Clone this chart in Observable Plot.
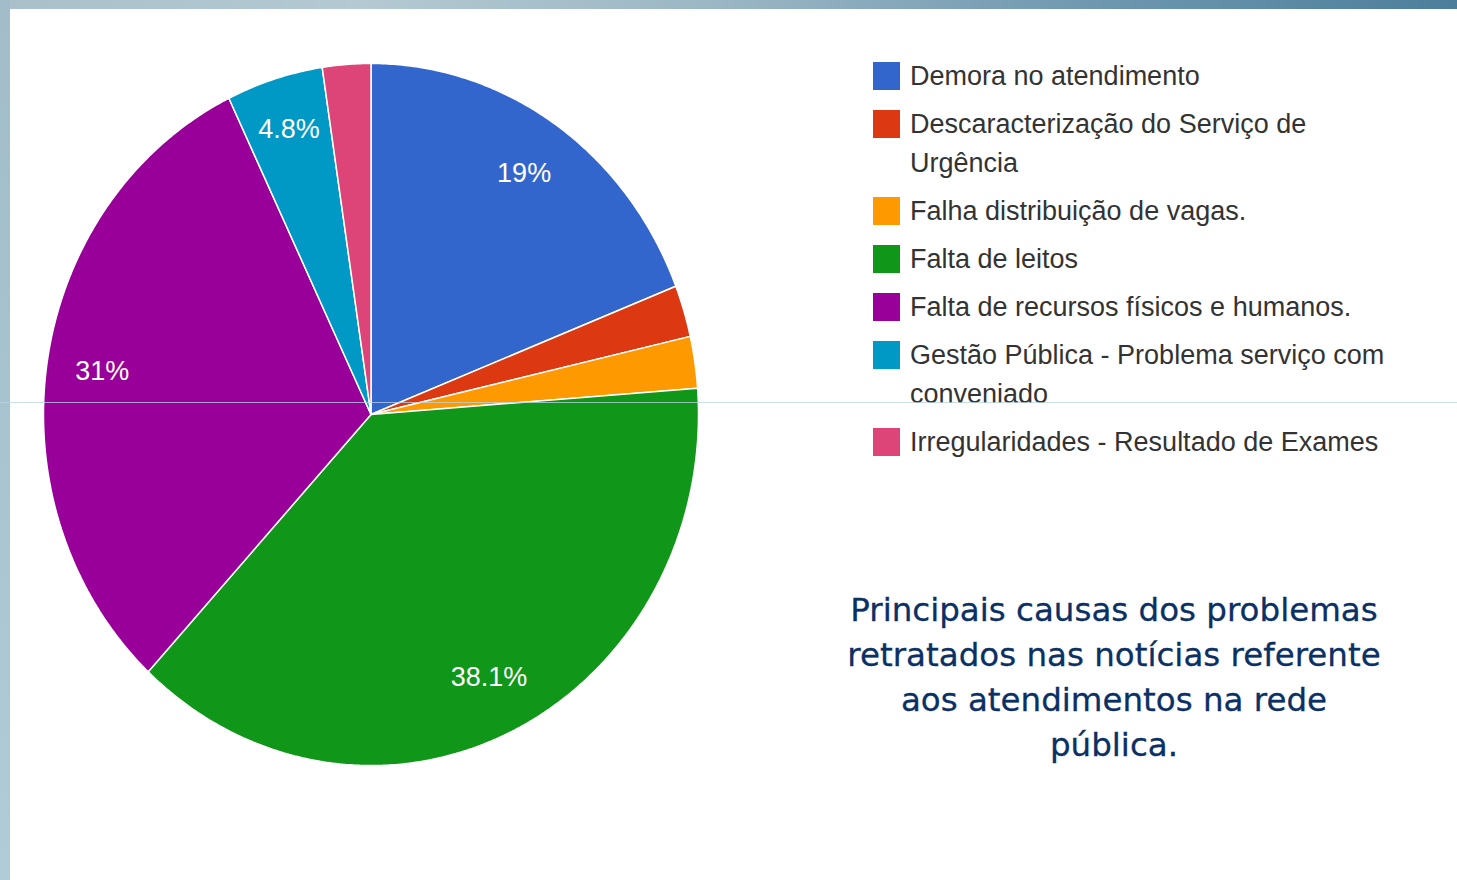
<!DOCTYPE html>
<html>
<head>
<meta charset="utf-8">
<script src="https://cdn.jsdelivr.net/npm/d3@7"></script>
<script src="https://cdn.jsdelivr.net/npm/@observablehq/plot@0.6"></script>
<style>
  html, body { margin: 0; padding: 0; }
  body { width: 1457px; height: 880px; position: relative; overflow: hidden; background: #ffffff; font-family: "Liberation Sans", Arial, sans-serif; }
  #topband { position: absolute; left: 0; top: 0; width: 1457px; height: 9px;
    background: linear-gradient(90deg, #a9c0cb 0%, #b4c9d2 25%, #9ab6c4 50%, #6f98b0 75%, #4c7e9b 100%); }
  #leftband { position: absolute; left: 0; top: 0; width: 10px; height: 880px;
    background: linear-gradient(180deg, #a2bcc9 0%, #a8c4d1 50%, #b0ccd8 100%); }
  #chart { position: absolute; left: 0; top: 0; }
  #legend { position: absolute; left: 873px; top: 57px; }
  .item { display: flex; align-items: flex-start; margin-bottom: 9px; }
  .sw { width: 27px; height: 28px; margin-top: 5px; flex: none; }
  .lab { margin-left: 10px; font-size: 27px; line-height: 39px; color: #333; white-space: nowrap; }
  #title { position: absolute; left: 814px; top: 588px; width: 600px; text-align: center;
    font-family: "DejaVu Sans", Verdana, sans-serif; font-size: 32.5px; line-height: 45px; color: #0b3064;
    -webkit-text-stroke: 0.3px #0b3064; }
  #hline { position: absolute; left: 0; top: 402px; width: 1457px; height: 1px; background: rgba(185,212,228,0.75); z-index: 10; }
</style>
</head>
<body>
<div id="topband"></div>
<div id="leftband"></div>
<div id="chart"></div>
<div id="legend"></div>
<div id="title"></div>
<div id="hline"></div>
<script>
// ---- data ----
const categories = [
  "Demora no atendimento",
  "Descaracterização do Serviço de Urgência",
  "Falha distribuição de vagas.",
  "Falta de leitos",
  "Falta de recursos físicos e humanos.",
  "Gestão Pública - Problema serviço com conveniado",
  "Irregularidades - Resultado de Exames"
];
const legendLines = [
  ["Demora no atendimento"],
  ["Descaracterização do Serviço de", "Urgência"],
  ["Falha distribuição de vagas."],
  ["Falta de leitos"],
  ["Falta de recursos físicos e humanos."],
  ["Gestão Pública - Problema serviço com", "conveniado"],
  ["Irregularidades - Resultado de Exames"]
];
const counts = [8, 1, 1, 16, 13, 2, 1];
const colors = ["#3366cc", "#dc3912", "#ff9900", "#109618", "#990099", "#0099c6", "#dd4477"];
const titleLines = [
  "Principais causas dos problemas",
  "retratados nas notícias referente",
  "aos atendimentos na rede",
  "pública."
];

// ---- build pie geometry from data ----
const total = d3.sum(counts);
const arcs = d3.pie().sort(null).value(d => d)(counts);
const rows = [];
arcs.forEach((a, i) => {
  const cat = categories[i];
  rows.push({cat, x: 0, y: 0});
  const steps = Math.max(2, Math.ceil((a.endAngle - a.startAngle) / (Math.PI / 360)));
  for (let k = 0; k <= steps; k++) {
    const t = a.startAngle + (a.endAngle - a.startAngle) * k / steps;
    rows.push({cat, x: Math.sin(t), y: Math.cos(t)});
  }
  rows.push({cat, x: 0, y: 0});
});
const fmt = d3.format(".1~f");
const labels = arcs
  .map((a, i) => ({a, i, share: counts[i] / total}))
  .filter(d => d.share > 0.03)
  .map(d => {
    const m = (d.a.startAngle + d.a.endAngle) / 2;
    const r = d.share < 0.1 ? 0.85 : 0.83;
    return {x: r * Math.sin(m), y: r * Math.cos(m), text: fmt(d.share * 100) + "%"};
  });

const W = 760, H = 880;
const chart = Plot.plot({
  width: W,
  height: H,
  marginLeft: 43,
  marginRight: W - 698,
  marginTop: 63,
  marginBottom: H - 765,
  x: {domain: [-1, 1], axis: null},
  y: {domain: [-1, 1], axis: null},
  color: {domain: categories, range: colors},
  style: {background: "transparent", overflow: "visible"},
  marks: [
    Plot.line(rows, {x: "x", y: "y", z: "cat", fill: "cat", stroke: "white", strokeWidth: 1.5, strokeLinejoin: "miter", curve: "linear"}),
    Plot.text(labels, {x: "x", y: "y", text: "text", fill: "white", fontSize: 27, fontFamily: "Liberation Sans, Arial, sans-serif"})
  ]
});
document.getElementById("chart").appendChild(chart);

// ---- legend ----
const legend = document.getElementById("legend");
categories.forEach((c, i) => {
  const item = document.createElement("div");
  item.className = "item";
  const sw = document.createElement("div");
  sw.className = "sw";
  sw.style.background = colors[i];
  const lab = document.createElement("div");
  lab.className = "lab";
  legendLines[i].forEach((ln, j) => {
    if (j) lab.appendChild(document.createElement("br"));
    lab.appendChild(document.createTextNode(ln));
  });
  item.appendChild(sw);
  item.appendChild(lab);
  legend.appendChild(item);
});

// ---- title ----
const title = document.getElementById("title");
titleLines.forEach((ln, j) => {
  if (j) title.appendChild(document.createElement("br"));
  title.appendChild(document.createTextNode(ln));
});
</script>
</body>
</html>
